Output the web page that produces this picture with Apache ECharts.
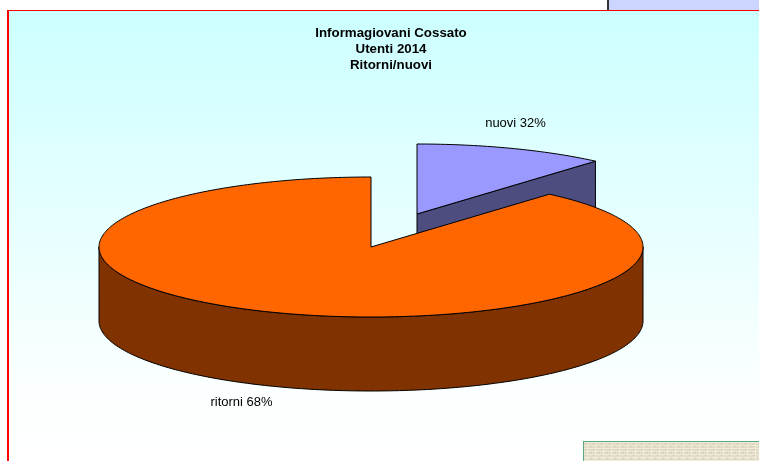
<!DOCTYPE html>
<html><head><meta charset="utf-8">
<style>html,body{margin:0;padding:0;background:#fff}#c{width:759px;height:461px}</style>
<script src="https://cdn.jsdelivr.net/npm/echarts@6/dist/echarts.min.js"></script>
</head><body><div id="c"></div>
<script>
// Data
var categories = ['nuovi', 'ritorni'];
var labelPercents = [32, 68];          // percentages printed on the labels
var drawnDegrees = [41, 319];          // sweep of each slice as actually drawn
var titleLines = ['Informagiovani Cossato', 'Utenti 2014', 'Ritorni/nuovi'];

// Styling / layout
var topColors = ['#9999FF', '#FF6600'];
var wallColors = ['#4D4D80', '#803300'];
var centers = [[417, 214], [371, 247]];
var labelAnchors = [[515.5, 123.5], [241.5, 402.5]];
var RX = 272, RY = 70, DEPTH = 74;

function pt(c, deg, dy) {
  var a = deg * Math.PI / 180;
  return [c[0] + RX * Math.sin(a), c[1] - RY * Math.cos(a) + (dy || 0)];
}
function arcPts(c, from, to, dy) {
  var out = [], n = Math.max(2, Math.ceil(Math.abs(to - from)));
  for (var i = 0; i <= n; i++) out.push(pt(c, from + (to - from) * i / n, dy));
  return out;
}
var rows = categories.map(function (n, i) {
  return { name: n, value: [i, drawnDegrees[i], labelPercents[i]] };
});
function renderItem(params, api) {
  var i = api.value(0), sweep = api.value(1), pct = api.value(2);
  var start = 0;
  for (var k = 0; k < i; k++) start += drawnDegrees[k];
  var end = start + sweep, c = centers[i], kids = [];
  var line = { stroke: '#000', lineWidth: 1 };
  // cut face that looks toward the viewer
  if (end <= 90) {
    var p = pt(c, end);
    kids.push({ type: 'polygon', shape: { points: [c, p, [p[0], p[1] + DEPTH], [c[0], c[1] + DEPTH]] },
      style: Object.assign({ fill: wallColors[i] }, line) });
  }
  // outer wall, visible part between 90 and 270 degrees
  var a = Math.max(start, 90), b = Math.min(end, 270);
  if (b > a) {
    var upper = arcPts(c, a, b, 0), lower = arcPts(c, b, a, DEPTH);
    kids.push({ type: 'polygon', shape: { points: upper.concat(lower) },
      style: Object.assign({ fill: wallColors[i] }, line) });
  }
  // top face
  kids.push({ type: 'polygon', shape: { points: [c].concat(arcPts(c, start, end, 0)) },
    style: Object.assign({ fill: topColors[i] }, line) });
  // label
  kids.push({ type: 'text', x: labelAnchors[i][0], y: labelAnchors[i][1],
    style: { text: categories[i] + ' ' + pct + '%',
      fill: '#000', font: '13px "Liberation Sans"', textAlign: 'center', textVerticalAlign: 'middle' } });
  return { type: 'group', children: kids };
}

// Paper-like texture for the lower-right box
var tex = document.createElement('canvas'); tex.width = 8; tex.height = 6;
var g = tex.getContext('2d');
g.fillStyle = '#E2DBC3'; g.fillRect(0, 0, 8, 6);
g.fillStyle = '#EFEBDC'; g.fillRect(0, 1, 8, 1); g.fillRect(0, 4, 8, 1); g.fillRect(3, 0, 1, 6);
g.fillStyle = '#D5CCB0'; g.fillRect(6, 2, 2, 1); g.fillRect(1, 5, 2, 1);

var chart = echarts.init(document.getElementById('c'), null, { renderer: 'canvas' });
chart.setOption({
  animation: false,
  backgroundColor: '#fff',
  title: {
    text: titleLines.join('\n'), left: 386, top: 20, textAlign: 'center',
    textStyle: { fontFamily: 'Liberation Sans', fontSize: 13.3, fontWeight: 'bold', color: '#000', lineHeight: 16 }
  },
  graphic: { elements: [
    { type: 'rect', z: -5, shape: { x: 607, y: 0, width: 152, height: 10 }, style: { fill: '#CCD5FF' } },
    { type: 'rect', z: -4, shape: { x: 607, y: 0, width: 2, height: 10 }, style: { fill: '#333' } },
    { type: 'rect', z: -5, shape: { x: 8, y: 10, width: 751, height: 451 },
      style: { fill: new echarts.graphic.LinearGradient(0, 0, 0, 1, [
        { offset: 0, color: '#CCFFFF' }, { offset: 0.85, color: '#FCFFFF' }, { offset: 1, color: '#FFFFFF' }]) } },
    { type: 'rect', z: -4, shape: { x: 7, y: 10, width: 752, height: 1 }, style: { fill: '#FF0000' } },
    { type: 'rect', z: -4, shape: { x: 7, y: 10, width: 2, height: 451 }, style: { fill: '#FF0000' } },
    { type: 'rect', z: -3, shape: { x: 583, y: 441, width: 176, height: 20 }, style: { fill: { image: tex, repeat: 'repeat' } } },
    { type: 'rect', z: -2, shape: { x: 583, y: 441, width: 176, height: 1 }, style: { fill: '#5BA97E' } },
    { type: 'rect', z: -2, shape: { x: 583, y: 441, width: 1, height: 20 }, style: { fill: '#5BA97E' } }
  ] },
  series: [{ type: 'custom', coordinateSystem: 'none', renderItem: renderItem, data: rows, silent: true }]
});
</script></body></html>
